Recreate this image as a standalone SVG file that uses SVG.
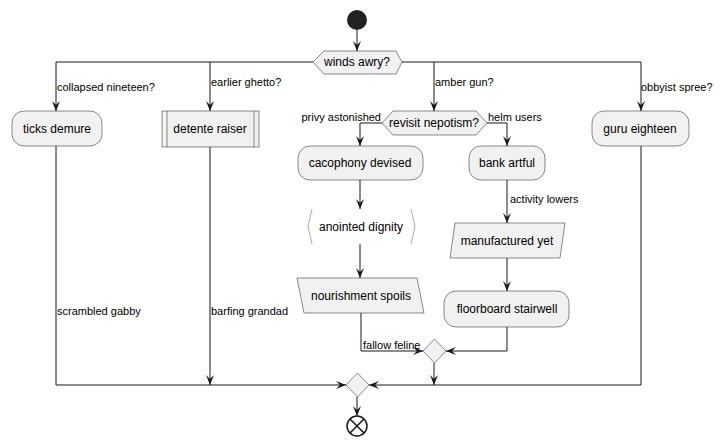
<svg xmlns="http://www.w3.org/2000/svg" width="725" height="447" viewBox="0 0 725 447">
<style>
.n{fill:#F1F1F1;stroke:#181818;stroke-width:0.5}
.t{font-family:"Liberation Sans",Arial,sans-serif;font-size:12px;fill:#000;text-anchor:middle}
.l{font-family:"Liberation Sans",Arial,sans-serif;font-size:11px;fill:#000}
.c{fill:none;stroke:#181818;stroke-width:1}
</style>
<defs>
<marker id="a" viewBox="0 0 10 8" refX="10" refY="4" markerWidth="10" markerHeight="8" markerUnits="userSpaceOnUse" orient="auto">
<path d="M0,0 L10,4 L0,8 L4,4 Z" fill="#181818"/>
</marker>
</defs>
<rect width="725" height="447" fill="#fff"/>
<g id="connectors">
<path class="c" d="M357,30 V51" marker-end="url(#a)"/>
<path class="c" d="M313,62 H56 V111" marker-end="url(#a)"/>
<path class="c" d="M210,62 V111" marker-end="url(#a)"/>
<path class="c" d="M402,62 H641 V111" marker-end="url(#a)"/>
<path class="c" d="M434,62 V111" marker-end="url(#a)"/>
<path class="c" d="M382,123 H360 V146" marker-end="url(#a)"/>
<path class="c" d="M487,123 H507 V146" marker-end="url(#a)"/>
<path class="c" d="M360,180 V209" marker-end="url(#a)"/>
<path class="c" d="M360,244 V278" marker-end="url(#a)"/>
<path class="c" d="M361,313 V351 H423" marker-end="url(#a)"/>
<path class="c" d="M507,180 V223" marker-end="url(#a)"/>
<path class="c" d="M507,258 V291" marker-end="url(#a)"/>
<path class="c" d="M507,327 V351 H446" marker-end="url(#a)"/>
<path class="c" d="M434,363 V385" marker-end="url(#a)"/>
<path class="c" d="M56,146 V385 H346" marker-end="url(#a)"/>
<path class="c" d="M210,147 V385" marker-end="url(#a)"/>
<path class="c" d="M641,146 V385 H369" marker-end="url(#a)"/>
<path class="c" d="M357,397 V416" marker-end="url(#a)"/>
<text class="l" x="57" y="91">collapsed nineteen?</text>
<text class="l" x="211" y="86">earlier ghetto?</text>
<text class="l" x="435" y="86">amber gun?</text>
<text class="l" x="641" y="91">obbyist spree?</text>
<text class="l" x="381" y="121" text-anchor="end">privy astonished</text>
<text class="l" x="488" y="121">helm users</text>
<text class="l" x="510" y="203">activity lowers</text>
<text class="l" x="363" y="349">fallow feline</text>
<text class="l" x="57" y="315">scrambled gabby</text>
<text class="l" x="211" y="315">barfing grandad</text>
</g>
<g id="start"><circle cx="357" cy="20" r="10" fill="#222"/></g>
<g id="winds"><polygon class="n" points="313,62 324,51 396,51 402,62 396,74 324,74"/><text class="t" x="357" y="66">winds awry?</text></g>
<g id="ticks"><rect class="n" x="12" y="111" width="90" height="35" rx="12"/><text class="t" x="57" y="133">ticks demure</text></g>
<g id="detente"><rect class="n" x="162" y="111" width="97" height="36"/><path class="n" d="M167,111 V147 M254,111 V147"/><text class="t" x="210" y="133">detente raiser</text></g>
<g id="revisit"><polygon class="n" points="382,123 393,111 476,111 487,123 476,135 393,135"/><text class="t" x="434" y="127">revisit nepotism?</text></g>
<g id="guru"><rect class="n" x="592" y="111" width="97" height="35" rx="12"/><text class="t" x="640" y="133">guru eighteen</text></g>
<g id="cacophony"><rect class="n" x="298" y="146" width="125" height="34" rx="12"/><text class="t" x="360" y="167">cacophony devised</text></g>
<g id="bank"><rect class="n" x="469" y="146" width="76" height="34" rx="12"/><text class="t" x="507" y="167">bank artful</text></g>
<g id="anointed"><path d="M312,209 L308,226.5 L312,244 M411,209 L415,226.5 L411,244" fill="none" stroke="#888" stroke-width="0.7"/><text class="t" x="361" y="231">anointed dignity</text></g>
<g id="nourishment"><polygon class="n" points="297,278 417,278 424,313 304,313"/><text class="t" x="361" y="300">nourishment spoils</text></g>
<g id="manufactured"><polygon class="n" points="455,223 565,223 560,258 450,258"/><text class="t" x="507" y="245">manufactured yet</text></g>
<g id="floorboard"><rect class="n" x="444" y="291" width="125" height="36" rx="12"/><text class="t" x="507" y="313">floorboard stairwell</text></g>
<g id="merge1"><polygon class="n" points="434.5,339 446,351 434.5,363 423,351"/></g>
<g id="merge2"><polygon class="n" points="357.5,373 369,385 357.5,397 346,385"/></g>
<g id="end"><circle cx="357" cy="426" r="10" fill="none" stroke="#181818" stroke-width="1.5"/><path d="M350,419 L364,433 M364,419 L350,433" stroke="#181818" stroke-width="1.5"/></g>
</svg>
